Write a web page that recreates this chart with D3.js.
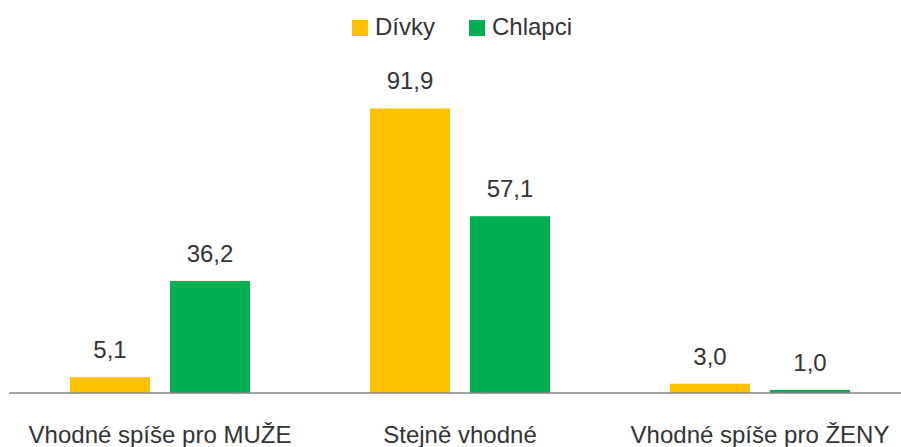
<!DOCTYPE html>
<html><head><meta charset="utf-8">
<script src="https://cdn.jsdelivr.net/npm/d3@7"></script>
<style>body{margin:0;background:#fff}svg{display:block}text{font-family:"Liberation Sans",Arial,sans-serif;fill:#333}</style>
</head><body>
<svg id="c" width="901" height="447"></svg>
<script>
const categories = ["Vhodné spíše pro MUŽE", "Stejně vhodné", "Vhodné spíše pro ŽENY"];
const seriesNames = ["Dívky", "Chlapci"];
const divky = [5.1, 91.9, 3.0];
const chlapci = [36.2, 57.1, 1.0];
const colors = ["#FFC000", "#00B050"];
const fmt = v => v.toFixed(1).replace(".", ",");

const svg = d3.select("#c");
const x = d3.scaleBand().domain(categories).range([10, 910]).padding(0);
const xs = d3.scaleBand().domain(seriesNames).range([60, 240]).paddingInner(0.2).paddingOuter(0);
const y = d3.scaleLinear().domain([0, 100]).range([393, 83.4]);
const seriesVals = [divky, chlapci];

const rows = [];
categories.forEach((c, i) => seriesNames.forEach((s, j) => rows.push({c, s, v: seriesVals[j][i], col: colors[j]})));

svg.selectAll("rect.bar").data(rows).join("rect").attr("class", "bar")
  .attr("x", d => x(d.c) + xs(d.s))
  .attr("width", xs.bandwidth())
  .attr("y", d => y(d.v))
  .attr("height", d => y(0) - y(d.v))
  .attr("fill", d => d.col);

svg.selectAll("text.val").data(rows).join("text").attr("class", "val")
  .attr("x", d => x(d.c) + xs(d.s) + xs.bandwidth() / 2)
  .attr("y", d => y(d.v) - 19)
  .attr("text-anchor", "middle").attr("font-size", 24)
  .text(d => fmt(d.v));

const axis = svg.append("g").attr("transform", `translate(0,${y(0)})`)
  .call(d3.axisBottom(x).tickSize(0).tickPadding(0));
axis.select(".domain").attr("stroke", "#868686").attr("stroke-width", 1.3).attr("d", "M9,0H901");
axis.selectAll(".tick text").attr("font-size", 24).attr("fill", "#333")
  .attr("font-family", '"Liberation Sans",Arial,sans-serif')
  .attr("dy", null).attr("y", 50);

const leg = svg.append("g");
const legX = [352, 469];
seriesNames.forEach((s, j) => {
  leg.append("rect").attr("x", legX[j]).attr("y", 20).attr("width", 16).attr("height", 16).attr("fill", colors[j]);
  leg.append("text").attr("x", legX[j] + 23).attr("y", 35).attr("font-size", 24).text(s);
});
</script>
</body></html>
